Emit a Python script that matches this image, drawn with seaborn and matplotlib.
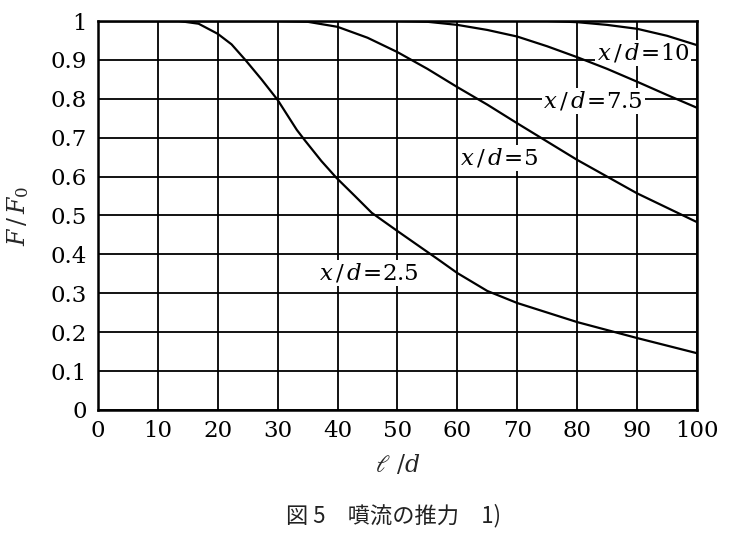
import numpy as np
import pandas as pd
import matplotlib
matplotlib.use('Agg')
import matplotlib.pyplot as plt
import seaborn as sns

# values (l/d vs F/F0)
x_25 = [0, 5, 10, 13.5, 16.8, 20, 22.3, 24.6, 27.3, 30, 33.2, 34.6, 37.3, 39.8, 42.9, 45.7,
        50, 54, 56.8, 60, 65, 70, 80, 90, 100]
y_25 = [1, 1, 1, 1, 0.993, 0.967, 0.94, 0.90, 0.85, 0.797, 0.72, 0.692, 0.64, 0.597, 0.55, 0.507,
        0.46, 0.417, 0.387, 0.352, 0.306, 0.275, 0.226, 0.185, 0.146]

x_5 = [0, 10, 20, 30, 35, 40, 45, 50, 55, 60, 65, 70, 75, 80, 85, 90, 95, 100]
y_5 = [1, 1, 1, 1, 0.998, 0.985, 0.957, 0.92, 0.877, 0.83, 0.785, 0.737, 0.69, 0.643, 0.60, 0.557, 0.52, 0.483]

x_75 = [0, 10, 20, 30, 40, 50, 55, 60, 65, 70, 75, 80, 85, 90, 95, 100]
y_75 = [1, 1, 1, 1, 1, 1, 0.998, 0.99, 0.977, 0.96, 0.935, 0.907, 0.877, 0.844, 0.81, 0.777]

x_10 = [0, 10, 20, 30, 40, 50, 60, 70, 75, 80, 85, 90, 95, 100]
y_10 = [1, 1, 1, 1, 1, 1, 1, 1, 1, 0.997, 0.99, 0.98, 0.962, 0.938]

series = ['2.5', '5', '7.5', '10']
label_x = [45.3, 67, 82.7, 91]
label_y = [0.352, 0.648, 0.794, 0.918]

xticks = np.arange(0, 101, 10)
yticks = np.round(np.arange(0, 1.01, 0.1), 1)
ytick_labels = ['0', '0.1', '0.2', '0.3', '0.4', '0.5', '0.6', '0.7', '0.8', '0.9', '1']

frames = []
for name, xs, ys in zip(series, [x_25, x_5, x_75, x_10], [y_25, y_5, y_75, y_10]):
    frames.append(pd.DataFrame({'l_d': xs, 'F': ys, 'x_d': name}))
df = pd.concat(frames, ignore_index=True)

sns.set_theme(style='white')
plt.rcParams['font.family'] = ['DejaVu Serif']
plt.rcParams['mathtext.fontset'] = 'dejavuserif'

fig = plt.figure(figsize=(7.29, 5.33), dpi=100)
ax = fig.add_axes([0.1344, 0.2308, 0.8216, 0.7298])

sns.lineplot(data=df, x='l_d', y='F', hue='x_d', palette=['black'] * 4,
             linewidth=1.6, legend=False, ax=ax, sort=False, estimator=None, zorder=3)

ax.set_xlim(0, 100)
ax.set_ylim(0, 1)
ax.set_xticks(xticks)
ax.set_yticks(yticks)
ax.set_yticklabels(ytick_labels)
ax.tick_params(axis='both', length=0, labelsize=16.5, colors='black')
ax.tick_params(axis='y', pad=8)
ax.tick_params(axis='x', pad=7)
ax.grid(True, color='black', linewidth=1.3)
ax.set_axisbelow(True)
for s in ax.spines.values():
    s.set_visible(True)
    s.set_color('black')
    s.set_linewidth(1.8)

# labels hide the grid behind them but not the curves
for name, lx, ly in zip(series, label_x, label_y):
    ax.text(lx, ly, r'$x\,/\,d\!=\!$' + name, ha='center', va='center', fontsize=16.5,
            color='black', zorder=2,
            bbox=dict(facecolor='white', edgecolor='none', pad=1))

ax.set_xlabel(r'$\ell\ /d$', fontsize=17, labelpad=8)
ax.set_ylabel(r'$F\,/\,F_0$', fontsize=17, labelpad=14)

fig.text(0.393, 0.033, '図 5　噴流の推力　1)', ha='left', va='center', fontsize=16,
         family=['Noto Sans CJK JP', 'DejaVu Sans'], color='#222222')

fig.savefig('out.png', dpi=100)
